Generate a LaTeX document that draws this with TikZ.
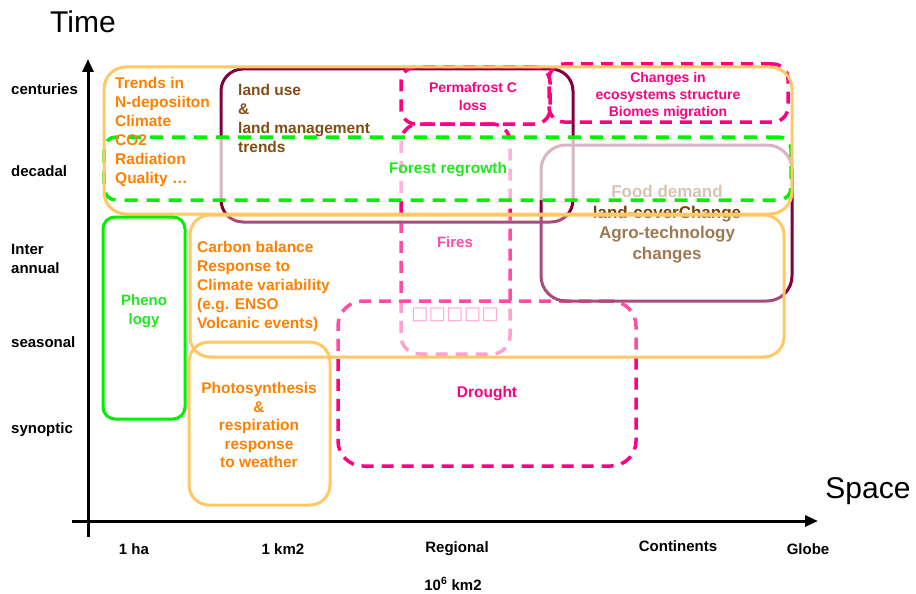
\documentclass[tikz,border=0pt]{standalone}
\usepackage{fontspec}
\setmainfont{Liberation Sans}
\newfontfamily\dejavu{DejaVu Sans}
\usetikzlibrary{arrows.meta}
\definecolor{oline}{HTML}{FFC864}
\definecolor{otext}{HTML}{FF8000}
\definecolor{maroonc}{HTML}{800040}
\definecolor{pinkc}{HTML}{FF0080}
\definecolor{greenc}{HTML}{00F000}
\definecolor{greentext}{HTML}{22E622}
\definecolor{lubrown}{HTML}{824C16}
\definecolor{foodbrown}{HTML}{773E05}
\begin{document}
\begin{tikzpicture}[x=1pt,y=-1pt,
  obox/.style={draw=oline, line width=3pt, inner sep=0pt},
  mbox/.style={draw=maroonc, line width=3pt, inner sep=0pt},
  pbox/.style={draw=pinkc, line width=3.5pt, dash pattern=on 12pt off 8pt, inner sep=0pt},
  gbox/.style={draw=greenc, line width=3.5pt, dash pattern=on 13pt off 9pt, inner sep=0pt},
  gsolid/.style={draw=greenc, line width=3pt, inner sep=0pt},
  txt/.style={inner sep=0pt, font=\fontsize{15.5}{19}\selectfont\bfseries, align=left},
  ctxt/.style={txt, align=center},
  axislabel/.style={inner sep=0pt, font=\fontsize{15}{19}\selectfont\bfseries, align=left, anchor=west},
  xlabel/.style={inner sep=0pt, font=\fontsize{15}{19}\selectfont\bfseries},
  axisline/.style={line width=3pt, -{Triangle[length=13pt,width=11pt]}}
]
\useasboundingbox (0,0) rectangle (916,594);

% --- lower layer: fires, drought, maroon boxes
\node[pbox, rounded corners=18pt, minimum width=109pt, minimum height=230pt] (firesbox) at (455.5,239) {};
\node[inner sep=0pt, text=pinkc, font=\dejavu\fontsize{18}{20}\selectfont] (tofu) at (455,315) {□\kern0.5pt□\kern0.5pt□\kern0.5pt□\kern0.5pt□};
\node[ctxt, text=pinkc, font=\fontsize{15}{19}\selectfont\bfseries] (firestext) at (455,242) {Fires};
\node[pbox, rounded corners=25pt, minimum width=298pt, minimum height=165pt, fill=white, fill opacity=0.47] (droughtbox) at (487,383.5) {};
\node[mbox, rounded corners=22pt, minimum width=352pt, minimum height=153pt] (landusebox) at (397,145.5) {};
\node[mbox, rounded corners=25pt, minimum width=251pt, minimum height=156pt] (foodbox) at (666.5,223) {};
\node[ctxt, text=foodbrown, font=\fontsize{17}{20.5}\selectfont\bfseries] (foodtext) at (667,224) {Food demand\\land-coverChange\\Agro-technology\\changes};
\node[pbox, rounded corners=15pt, minimum width=149pt, minimum height=57pt] (permabox) at (475.5,95.5) {};
\node[pbox, rounded corners=15pt, minimum width=239pt, minimum height=58pt] (changesbox) at (668.5,93) {};

% --- translucent overlays
\node[obox, rounded corners=20pt, minimum width=594pt, minimum height=142pt, fill=white, fill opacity=0.3] (carbonbox) at (487,286) {};
\node[gbox, rounded corners=12pt, minimum width=687pt, minimum height=63pt, fill=white, fill opacity=0.7] (forestbox) at (447.5,168.5) {};
\node[obox, rounded corners=22pt, minimum width=688pt, minimum height=147pt] (trendsbox) at (448,140.5) {};
\node[gsolid, rounded corners=12pt, minimum width=82pt, minimum height=202pt] (phenobox) at (144,318) {};
\node[obox, rounded corners=20pt, minimum width=141pt, minimum height=163pt] (photobox) at (259.5,423.5) {};

% --- texts
\node[txt, text=otext, anchor=west] (trendstext) at (115,132) {Trends in\\N-deposiiton\\Climate\\CO2\\Radiation\\Quality …};
\node[txt, text=lubrown, anchor=west] (landusetext) at (238,118) {land use\\\&\\land management\\trends};
\node[ctxt, text=pinkc, font=\fontsize{14}{18}\selectfont\bfseries] (permatext) at (473,96) {Permafrost C\\loss};
\node[ctxt, text=pinkc, font=\fontsize{14}{17}\selectfont\bfseries] (changestext) at (668,96) {Changes in\\ecosystems structure\\Biomes migration};
\node[ctxt, text=greentext] (foresttext) at (448,170) {Forest regrowth};
\node[txt, text=otext, anchor=west] (carbontext) at (197,286) {Carbon balance\\Response to\\Climate variability\\(e.g. ENSO\\Volcanic events)};
\node[ctxt, text=greentext, font=\fontsize{15}{19}\selectfont\bfseries] (phenotext) at (144,311) {Pheno\\logy};
\node[ctxt, text=otext, font=\fontsize{15.5}{18.5}\selectfont\bfseries] (phototext) at (259,425) {Photosynthesis\\\&\\respiration\\response\\to weather};
\node[ctxt, text=pinkc] (droughttext) at (487,394) {Drought};

% --- axes
\coordinate (ybot) at (88,537);
\coordinate (ytop) at (88,59);
\coordinate (xleft) at (72,521);
\coordinate (xright) at (818,521);
\draw[axisline] (ybot) -- (ytop);
\draw[axisline] (xleft) -- (xright);
\node[inner sep=0pt, font=\fontsize{30}{34}\selectfont] (timelabel) at (83,22) {Time};
\node[inner sep=0pt, font=\fontsize{30}{34}\selectfont] (spacelabel) at (868,491) {Space};

\node[axislabel] (centuries) at (11,89) {centuries};
\node[axislabel] (decadal) at (11,171) {decadal};
\node[axislabel] (interannual) at (11,259) {Inter\\annual};
\node[axislabel] (seasonal) at (11,342) {seasonal};
\node[axislabel] (synoptic) at (11,430) {synoptic};

\node[xlabel] (ha) at (134,549) {1 ha};
\node[xlabel] (km) at (283,549) {1 km2};
\node[xlabel] (regional) at (457,549) {Regional};
\node[xlabel] (continents) at (678,546) {Continents};
\node[xlabel] (globe) at (808,549) {Globe};
\node[xlabel] (tensix) at (453,584) {10\textsuperscript{6} km2};
\end{tikzpicture}
\end{document}
